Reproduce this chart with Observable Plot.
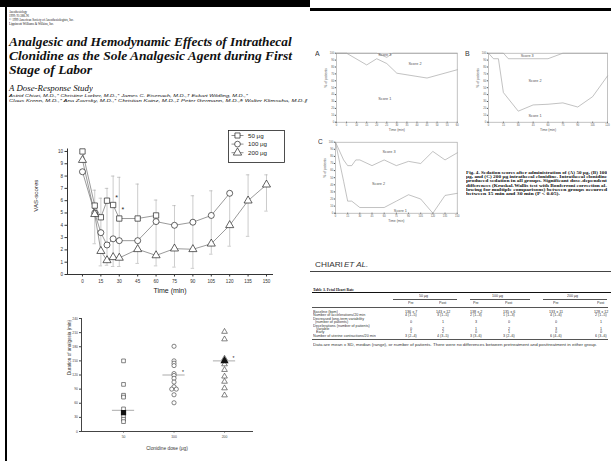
<!DOCTYPE html>
<html><head><meta charset="utf-8">
<script src="https://cdn.jsdelivr.net/npm/d3@7"></script>
<script src="https://cdn.jsdelivr.net/npm/@observablehq/plot@0.6"></script>
<style>
html,body{margin:0;padding:0;background:#fff;overflow:hidden;width:611px;height:461px;}
#page{position:relative;width:611px;height:461px;overflow:hidden;background:#fff;}
.abs{position:absolute;white-space:nowrap;line-height:1;transform-origin:0 0;}
.blk{position:absolute;background:#000;}
.fig{position:absolute;}
</style></head><body><div id="page"></div><script>
// ---------- data ----------
const vasTimes = [0, 10, 15, 20, 25, 30, 45, 60, 75, 90, 105, 120, 135, 150];
const vas50  = [10.0, 5.6, 4.65, 6.0, 5.65, 4.55, 4.55, 4.8];
const vas100 = [8.35, 5.0, 3.4, 2.4, 2.9, 2.75, 2.75, 4.3, 4.0, 4.25, 4.8, 6.6];
const vas200 = [9.3, 4.9, 1.9, 1.15, 1.4, 1.35, 2.05, 1.55, 2.1, 2.05, 2.5, 4.0, 6.0, 7.3];
const vasTicks = [0, 15, 30, 45, 60, 75, 90, 105, 120, 135, 150];
const barTimes = [10, 15, 20, 25, 30, 45, 60, 75, 90, 105, 120, 135, 150];
const barLow  = [2.5, 0.7, 0.75, 0.65, 0.65, 0.9, 0.7, 0.6, 0.5, 1.65, 2.3, 3.1, 5.15];
const barHigh = [6.85, 6.2, 7.0, 8.0, 7.9, 7.35, 6.05, 5.6, 6.4, 6.8, 6.6, 8.1, 8.1];
const starTimes = [25, 30];
const starVals = [6.25, 5.25];
const legendNames = ["50 μg", "100 μg", "200 μg"];

const doses = ["50", "100", "200"];
const dur50  = [150, 100, 77, 73, 48, 40, 32, 26, 21];
const dur100 = [181, 150, 145, 140, 123, 119, 113, 105, 95, 90, 90, 78, 61];
const dur200 = [212, 196, 155, 150, 143, 131, 117, 106, 92, 77];
const durFilled = [40, null, 150];
const durMedians = [45, 120, 150];
const durStars = [null, 126, 155];

const aLower = [[0,100],[5,100],[15,83],[20,92],[25,85],[30,71],[45,64],[60,76]];
const aUpper = [[0,100],[20,100],[25,94],[28,100],[60,100]];
const bLower = [[0,100],[5,92],[10,92],[15,43],[30,16],[45,25],[60,26],[75,28],[90,22],[105,37],[120,67]];
const bUpper = [[0,100],[15,100],[20,92],[60,92],[75,100],[120,100]];
const cLower = [[0,100],[5,72],[10,45],[15,17],[20,17],[30,8],[45,8],[60,8],[75,17],[90,26],[105,20],[120,0],[135,25],[150,28]];
const cUpper = [[0,100],[10,75],[15,67],[20,67],[25,75],[30,75],[45,67],[60,75],[75,67],[90,73],[105,70],[120,87],[135,75],[150,85]];
const aLabels = [["Score 3",24,98],["Score 2",39,84],["Score 1",24,34]];
const bLabels = [["Score 3",39,96],["Score 2",47,60],["Score 1",47,9]];
const cLabels = [["Score 3",66,86],["Score 2",53,42],["Score 1",80,4]];

const tableGroups = ["50 μg", "100 μg", "200 μg"];
const tableSub = ["Pre", "Post", "Pre", "Post", "Pre", "Post"];
const tableRowLabels = ["Baseline (bpm)", "Number of accelerations/20 min", "Decreased long-term variability",
  "(number of patients)", "Decelerations (number of patients)", "Variable", "Early",
  "Number of uterine contractions/20 min"];
const tableValues = [
  ["136 ± 7", "143 ± 12", "138 ± 2", "135 ± 6", "133 ± 11", "128 ± 12"],
  ["4 (1–5)", "3 (1–5)", "2 (1–3)", "1 (1–3)", "4 (1–6)", "2 (1–5)"],
  null,
  ["0", "1", "3", "0", "0", "1"],
  null,
  ["0", "2", "1", "2", "3", "1"],
  ["1", "2", "0", "1", "0", "0"],
  ["3 (2–4)", "4 (3–5)", "3 (3–6)", "3 (2–6)", "6 (4–6)", "6 (3–6)"]
];

// ---------- helpers ----------
const page = document.getElementById("page");
const SANS = "'Liberation Sans', Arial, Helvetica, sans-serif";
const SERIF = "'Liberation Serif', 'Times New Roman', serif";
function txt(s, x, y, size, o = {}) {
  const el = document.createElement("div");
  el.className = "abs";
  el.textContent = s;
  el.style.left = "0px";
  el.style.top = "0px";
  el.style.fontSize = "20px";
  el.style.fontFamily = o.family || SANS;
  if (o.italic) el.style.fontStyle = "italic";
  if (o.bold) el.style.fontWeight = "bold";
  el.style.color = o.color || "#111";
  page.appendChild(el);
  const w = el.offsetWidth;
  const sy = size / 20;
  const sx = o.width ? o.width / w : sy;
  let left = x;
  if (o.anchor === "middle") left = x - w * sx / 2;
  else if (o.anchor === "end") left = x - w * sx;
  el.style.left = left + "px";
  el.style.top = (y - size * 0.55) + "px";
  el.style.transform = `scale(${sx},${sy})`;
  return el;
}
function blk(x, y, w, h, c) {
  const d = document.createElement("div");
  d.className = "blk";
  Object.assign(d.style, {left: x + "px", top: y + "px", width: w + "px", height: h + "px"});
  if (c) d.style.background = c;
  page.appendChild(d);
  return d;
}
function place(node, x, y) {
  node.classList.add("fig");
  node.style.left = x + "px";
  node.style.top = y + "px";
  page.appendChild(node);
}

// ---------- page furniture ----------
blk(0, 0, 310, 7);
blk(310, 7.5, 301, 3.5);
blk(5, 0, 2.3, 461);

txt("Anesthesiology", 9, 11.5, 3.2, {family: SERIF, width: 18});
txt("1999; 91:388–96", 9, 15.5, 3.2, {family: SERIF, width: 20});
txt("© 1999 American Society of Anesthesiologists, Inc.", 9, 20, 3.2, {family: SERIF, width: 65});
txt("Lippincott Williams & Wilkins, Inc.", 9, 24, 3.2, {family: SERIF, width: 45});

txt("Analgesic and Hemodynamic Effects of Intrathecal", 9.3, 43, 12, {family: SERIF, bold: true, italic: true, width: 283});
txt("Clonidine as the Sole Analgesic Agent during First", 9.3, 57, 12, {family: SERIF, bold: true, italic: true, width: 283});
txt("Stage of Labor", 9.3, 71, 12, {family: SERIF, bold: true, italic: true, width: 83});
txt("A Dose-Response Study", 9.3, 88.3, 8.5, {family: SERIF, italic: true, width: 84});
txt("Astrid Chiari, M.D.,* Christine Lorber, M.D.,* James C. Eisenach, M.D.,† Eckart Wildling, M.D.,*", 9.3, 96.5, 4, {italic: true, width: 239});
txt("Claus Krenn, M.D.,* Ana Zavrsky, M.D.,* Christian Kainz, M.D.,‡ Peter Germann, M.D.,§ Walter Klimscha, M.D.∥", 9.3, 100.8, 4, {italic: true, width: 298});

// ---------- VAS chart ----------
const vasSeries = [
  {name: legendNames[0], symbol: "square", values: vas50},
  {name: legendNames[1], symbol: "circle", values: vas100},
  {name: legendNames[2], symbol: "triangle", values: vas200}
];
const vasRows = vasSeries.flatMap(s => s.values.map((v, i) => ({t: vasTimes[i], v, s: s.name})));
const bars = barTimes.map((t, i) => ({t, lo: barLow[i], hi: barHigh[i]}));
const caps = bars.flatMap(b => [{t: b.t, v: b.lo}, {t: b.t, v: b.hi}]);
const stars = starTimes.map((t, i) => ({t, v: starVals[i]}));

const vas = Plot.plot({
  width: 300, height: 190, marginLeft: 67, marginRight: 28, marginTop: 28.5, marginBottom: 36,
  style: {fontFamily: SANS, fontSize: "4.6px", color: "#333", background: "transparent", overflow: "visible"},
  x: {domain: [-12.2, 154.9], ticks: vasTicks, tickSize: 2.5, tickPadding: 2.5, line: true, label: null},
  y: {domain: [0, 10.2], ticks: d3.range(0, 11), tickSize: 2.5, tickPadding: 2, line: true, label: null},
  marks: [
    Plot.ruleX(bars, {x: "t", y1: "lo", y2: "hi", stroke: "#aaa", strokeWidth: 0.6}),
    Plot.ruleY(caps, {y: "v", x1: d => d.t - 1.4, x2: d => d.t + 1.4, stroke: "#aaa", strokeWidth: 0.6}),
    Plot.line(vasRows, {x: "t", y: "v", z: "s", stroke: "#555", strokeWidth: 0.6}),
    ...vasSeries.map(s => Plot.dot(vasRows.filter(d => d.s === s.name),
      {x: "t", y: "v", symbol: s.symbol, r: 3, fill: "white", stroke: "#222", strokeWidth: 0.7})),
    Plot.text(stars, {x: "t", y: "v", text: d => "*", dx: 3.5, fontSize: 7, fill: "#222"}),
    Plot.text(["Time (min)"], {text: d => d, frameAnchor: "bottom", dy: 18, fontSize: 7, fill: "#222"}),
    Plot.text(["VAS-scores"], {text: d => d, frameAnchor: "left", dx: -31, rotate: -90, fontSize: 6.2, fill: "#222"})
  ]
});
place(vas, 0, 120);

// legend
(function () {
  const w = 57, h = 33;
  const svg = d3.create("svg").attr("width", w).attr("height", h).style("overflow", "visible");
  svg.append("rect").attr("x", 0.5).attr("y", 0.5).attr("width", w - 1).attr("height", h - 1)
    .attr("fill", "white").attr("stroke", "#222").attr("stroke-width", 0.8);
  const syms = [d3.symbolSquare, d3.symbolCircle, d3.symbolTriangle];
  legendNames.forEach((n, i) => {
    const y = 5.5 + i * 8.6;
    svg.append("line").attr("x1", 3.5).attr("x2", 15.5).attr("y1", y).attr("y2", y)
      .attr("stroke", "#444").attr("stroke-width", 0.6);
    svg.append("path").attr("d", d3.symbol(syms[i], i === 2 ? 30 : 26)()).attr("transform", `translate(9.5,${y})`)
      .attr("fill", "white").attr("stroke", "#222").attr("stroke-width", 0.7);
    svg.append("text").attr("x", 20).attr("y", y).attr("dy", "0.35em").attr("font-size", 6.2)
      .attr("font-family", SANS).attr("fill", "#222").text(n);
  });
  place(svg.node(), 228, 130);
})();

// ---------- duration scatter ----------
const durGroups = [dur50, dur100, dur200];
const durSymbols = ["square", "circle", "triangle"];
const durRows = durGroups.flatMap((arr, gi) => {
  const seen = {};
  return arr.map(v => {
    const n = arr.filter(u => u === v).length;
    const k = (seen[v] = (seen[v] || 0) + 1) - 1;
    const off = n > 1 ? (k - (n - 1) / 2) * 0.09 : 0;
    return {g: gi, x: gi + off, v, symbol: durSymbols[gi]};
  });
});
const filledRows = durFilled.map((v, g) => ({g, v})).filter(d => d.v != null);
const medRows = durMedians.map((v, g) => ({g, v}));
const starRows = durStars.map((v, g) => ({g, v})).filter(d => d.v != null);

const scat = Plot.plot({
  width: 200, height: 150, marginLeft: 21, marginRight: 8, marginTop: 13, marginBottom: 24,
  style: {fontFamily: SANS, fontSize: "3.4px", color: "#444", background: "transparent", overflow: "visible"},
  x: {domain: [-0.832, 2.554], ticks: [0, 1, 2], tickFormat: i => doses[i], tickSize: 1.5, tickPadding: 3, line: true, label: null},
  y: {domain: [0, 240], ticks: d3.range(0, 241, 30), tickSize: 2, tickPadding: 1.5, line: true, label: null},
  marks: [
    Plot.ruleY(medRows, {y: "v", x1: d => d.g - 0.22, x2: d => d.g + 0.22, stroke: "#888", strokeWidth: 0.7}),
    ...durSymbols.map((s, gi) => Plot.dot(durRows.filter(d => d.g === gi),
      {x: "x", y: "v", symbol: s, r: 2.1, fill: "white", stroke: "#333", strokeWidth: 0.6})),
    ...filledRows.map(d => Plot.dot([d], {x: "g", y: "v", symbol: durSymbols[d.g], r: 2.1, fill: "#111", stroke: "#111"})),
    Plot.text(starRows, {x: "g", y: "v", text: d => "*", dx: 9, fontSize: 5, fill: "#222"}),
    Plot.text(["Clonidine dose (μg)"], {text: d => d, frameAnchor: "bottom", dy: 18, fontSize: 4.8, fill: "#333"}),
    Plot.text(["Duration of analgesia (min)"], {text: d => d, frameAnchor: "left", dx: -12, rotate: -90, fontSize: 4.6, fill: "#333"})
  ]
});
place(scat, 60, 305);

// ---------- sedation charts ----------
function scoreChart(lower, upper, labels, xMax, xTicks, mL, mR, mT, mB, w, h) {
  const rows = [...lower.map(([t, v]) => ({t, v, k: "lower"})), ...upper.map(([t, v]) => ({t, v, k: "upper"}))];
  const lab = labels.map(([s, t, v]) => ({s, t, v}));
  return Plot.plot({
    width: w, height: h, marginLeft: mL, marginRight: mR, marginTop: mT, marginBottom: mB,
    style: {fontFamily: SANS, fontSize: "2.6px", color: "#555", background: "transparent", overflow: "visible"},
    x: {domain: [0, xMax], ticks: xTicks, tickSize: 1.2, tickPadding: 1.2, label: null},
    y: {domain: [0, 100], ticks: d3.range(0, 101, 10), tickSize: 1.2, tickPadding: 1.2, label: null},
    marks: [
      Plot.frame({stroke: "#999", strokeWidth: 0.6}),
      Plot.line(rows, {x: "t", y: "v", z: "k", stroke: "#999", strokeWidth: 0.6}),
      Plot.text(lab, {x: "t", y: "v", text: "s", fontSize: 3.8, fill: "#555"}),
      Plot.text(["Time (min)"], {text: d => d, frameAnchor: "bottom", dy: 8.5, fontSize: 3.4, fill: "#555"}),
      Plot.text(["% of patients"], {text: d => d, frameAnchor: "left", dx: -10.5, rotate: -90, fontSize: 3.4, fill: "#555"})
    ]
  });
}
place(scoreChart(aLower, aUpper, aLabels, 60, d3.range(0, 61, 5), 26, 3.3, 12.7, 18.3, 150, 100), 310, 40);
place(scoreChart(bLower, bUpper, bLabels, 120, d3.range(0, 121, 15), 28, 4, 12.7, 18.3, 151, 100), 460, 40);
place(scoreChart(cLower, cUpper, cLabels, 150, d3.range(0, 151, 15), 25, 3.3, 6.7, 22.3, 150, 100), 310, 135);
txt("A", 315, 53.5, 7, {color: "#333"});
txt("B", 465, 54, 7, {color: "#333"});
txt("C", 318, 142, 6.5, {color: "#333"});

// caption
const capLines = [
  "Fig. 4. Sedation scores after administration of (A) 50 μg, (B) 100",
  "μg, and (C) 200 μg intrathecal clonidine. Intrathecal clonidine",
  "produced sedation in all groups. Significant dose-dependent",
  "differences (Kruskal-Wallis test with Bonferroni correction al-",
  "lowing for multiple comparisons) between groups occurred",
  "between 15 min and 30 min (P < 0.05)."
];
capLines.forEach((l, i) => txt(l, 466, 172.3 + i * 4.2, 4.3, {family: SERIF, bold: true, width: i < 5 ? 141 : 94}));

// ---------- table ----------
txt("CHIARI ", 315, 265, 7.5, {color: "#333", width: 28});
txt("ET AL.", 344, 265, 7.5, {color: "#333", italic: true, width: 24});
blk(310, 271, 301, 0.6, "#444");
txt("Table 3. Fetal Heart Rate", 313, 289.3, 4.2, {family: SERIF, bold: true, width: 41});
blk(312, 291.5, 299, 1.3, "#111");
const groupCenters = [423, 498, 573];
const groupRules = [[393, 457], [470, 530], [543, 607]];
tableGroups.forEach((g, i) => {
  txt(g, groupCenters[i], 296, 3.6, {anchor: "middle", color: "#333"});
  blk(groupRules[i][0], 298.8, groupRules[i][1] - groupRules[i][0], 0.5, "#555");
});
const colCenters = [411, 443, 476, 509, 556, 601];
tableSub.forEach((s, i) => txt(s, colCenters[i], 303.2, 3.6, {anchor: "middle", color: "#333"}));
blk(312, 306.5, 296, 0.5, "#555");
const rowYs = [311.7, 315.2, 318.7, 322.1, 325.6, 329, 332.4, 336];
const indent = [0, 0, 0, 2, 0, 3, 3, 0];
tableRowLabels.forEach((l, r) => {
  txt(l, 313 + indent[r], rowYs[r], 3.7, {color: "#333"});
  if (tableValues[r]) tableValues[r].forEach((v, c) => txt(v, colCenters[c], rowYs[r], 3.7, {anchor: "middle", color: "#333"}));
});
blk(312, 338.6, 296, 0.5, "#555");
txt("Data are mean ± SD, median (range), or number of patients. There were no differences between pretreatment and posttreatment in either group.", 313, 345, 3.7, {color: "#333", width: 284});
</script></body></html>
